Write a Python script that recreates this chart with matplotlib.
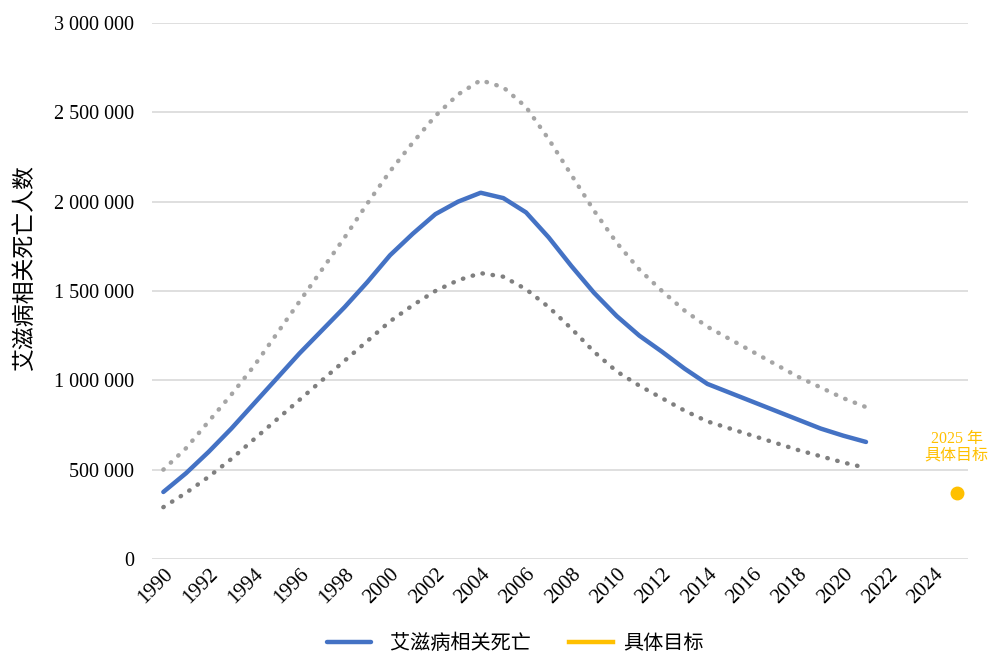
import numpy as np
import matplotlib
matplotlib.use("Agg")
import matplotlib.pyplot as plt
from matplotlib.ticker import FuncFormatter

years = list(range(1990, 2026))
tick_years = list(range(1990, 2025, 2))

# central estimate 1990-2021
deaths = [375000, 480000, 600000, 730000, 870000, 1010000, 1150000, 1280000,
          1410000, 1550000, 1700000, 1820000, 1930000, 2000000, 2050000, 2020000,
          1940000, 1800000, 1640000, 1490000, 1360000, 1250000, 1160000, 1065000,
          980000, 930000, 880000, 830000, 780000, 730000, 690000, 655000]
upper = [500000, 620000, 770000, 920000, 1080000, 1260000, 1440000, 1620000,
         1800000, 1990000, 2170000, 2330000, 2480000, 2600000, 2680000, 2640000,
         2530000, 2350000, 2150000, 1950000, 1770000, 1620000, 1500000, 1390000,
         1300000, 1230000, 1160000, 1090000, 1020000, 960000, 900000, 850000]
lower = [290000, 370000, 460000, 560000, 670000, 780000, 890000, 1000000,
         1110000, 1220000, 1330000, 1420000, 1500000, 1560000, 1600000, 1580000,
         1510000, 1410000, 1290000, 1160000, 1050000, 970000, 900000, 830000,
         770000, 730000, 690000, 650000, 610000, 575000, 540000, 510000]
target_year = 2025
target_value = 370000

plt.rcParams['font.family'] = ['Liberation Serif', 'Noto Sans CJK SC']

fig = plt.figure(figsize=(9.91, 6.58), dpi=100)
ax = fig.add_axes([0.1534, 0.1505, 0.8234, 0.8145])

x = np.arange(len(years))
n = len(deaths)
blue = '#4472c4'
gold = '#ffc000'

ax.plot(x[:n], upper, linestyle=(0, (0.1, 2.2)), dash_capstyle='round',
        color='#a5a5a5', linewidth=3.2)
ax.plot(x[:n], lower, linestyle=(0, (0.1, 2.2)), dash_capstyle='round',
        color='#7f7f7f', linewidth=3.2)
ax.plot(x[:n], deaths, color=blue, linewidth=3.2, solid_capstyle='round',
        label='  艾滋病相关死亡')
ti = years.index(target_year)
ax.plot([x[ti]], [target_value], 'o', color=gold, markersize=9)
ax.plot([], [], color=gold, linewidth=3.2, label='具体目标')
ax.text(x[ti], 535000, '2025 年\n具体目标', color=gold, ha='center',
        va='bottom', fontsize=11.5, linespacing=1.05)

ax.set_xlim(-0.5, len(years) - 0.5)
ax.set_ylim(0, 3000000)
ax.set_yticks(np.arange(0, 3000001, 500000))
ax.yaxis.set_major_formatter(FuncFormatter(lambda v, p: f"{int(v):,}".replace(',', ' ')))
ax.set_xticks([years.index(y) for y in tick_years])
ax.set_xticklabels([str(y) for y in tick_years], rotation=45, ha='right',
                   rotation_mode='anchor', fontsize=15)
ax.tick_params(axis='y', labelsize=14.5, length=0, pad=13)
ax.tick_params(axis='x', length=0, pad=4)
ax.grid(axis='y', color='#d9d9d9', linewidth=1.2)
ax.set_axisbelow(True)
for s in ax.spines.values():
    s.set_visible(False)

ax.set_ylabel('艾滋病相关死亡人数', fontsize=16.5, family=['Noto Sans CJK SC'])
ax.yaxis.set_label_coords(-0.142, 0.545)

leg = fig.legend(loc='lower center', bbox_to_anchor=(0.52, -0.022), ncol=2, frameon=False,
                 prop={'family': ['Noto Sans CJK SC'], 'size': 14.5},
                 handlelength=2.2, columnspacing=1.9, handletextpad=0.5)

fig.savefig('out.png', dpi=100)
